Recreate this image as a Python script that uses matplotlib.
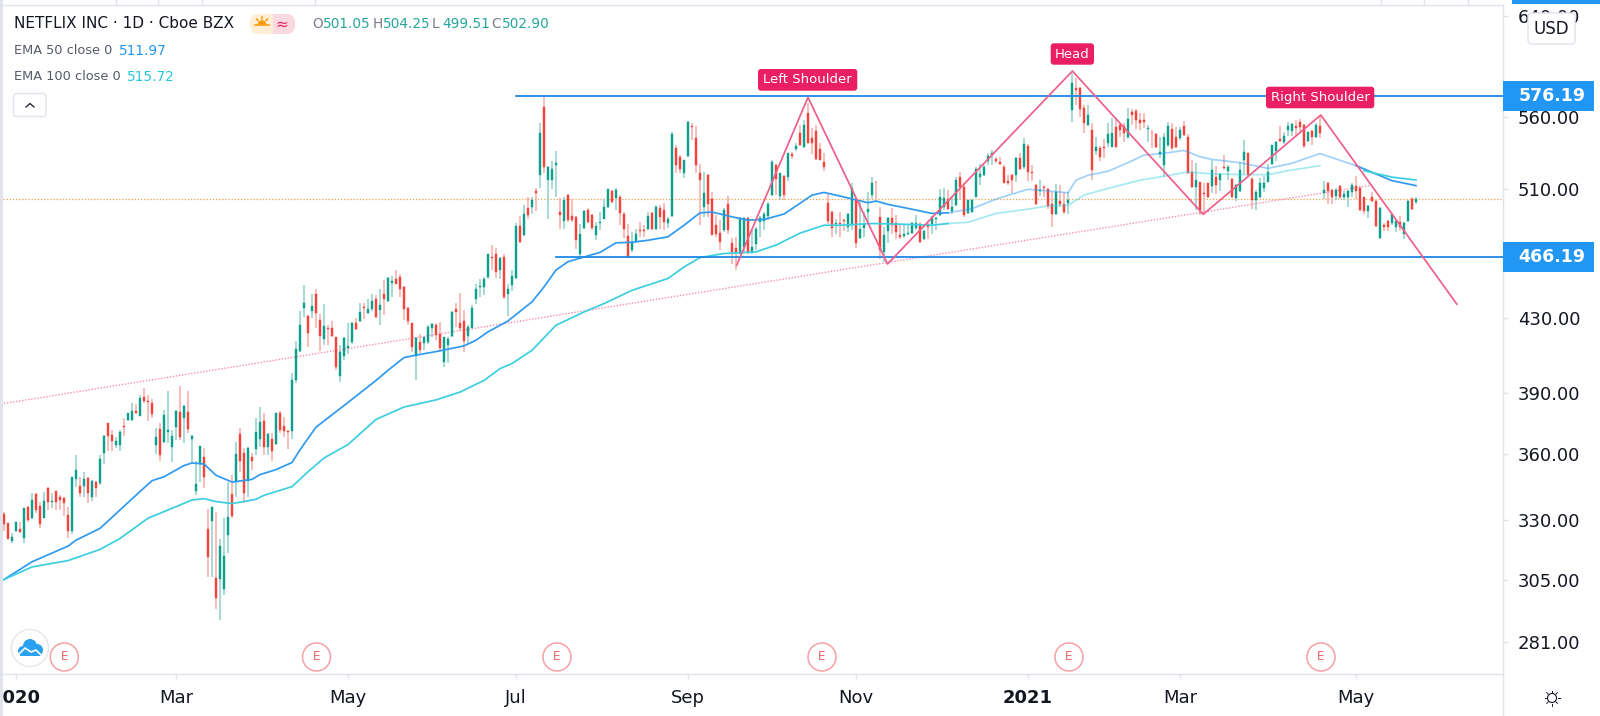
import numpy as np
import matplotlib
matplotlib.use("Agg")
import matplotlib.pyplot as plt
import matplotlib.ticker as mticker
from matplotlib.patches import Rectangle, FancyBboxPatch, Circle, Wedge
from matplotlib.transforms import Bbox, TransformedBbox, IdentityTransform

highs = [333.6,328.9,324.6,329.3,329.3,335.4,336.1,341.8,342.1,338,
342.6,344.8,342.1,343,341,340.3,335.8,349.3,359.2,349.3,
351.4,349,347.8,347.5,359.2,369.1,374.8,371.4,368.2,371.2,
377.3,380,384.7,384.4,389,392.5,389,386.8,372.3,375.1,
381.4,391.1,371.4,381.4,393.3,384,391.1,369.1,356.6,363.9,
362.6,335,335.5,333.6,322.1,330.8,347,350,365.7,372.4,
362.6,363.4,360.3,377.3,383,379.7,369.9,369.9,380,381,
377.8,371.4,400.2,417.7,
434.2,449.2,431.8,444.3,446.7,432.7,438.1,426.2,428.6,419.7,
415.1,419.7,427.7,428,430.5,439,439,441.4,444.3,443.4,
446.7,452.1,454.1,454.5,458.2,455.8,448.6,436.6,427.7,419.4,
421.6,419.7,426.2,427.2,427.2,428.1,419.7,419.7,434.2,438.9,
444.9,434.6,426.2,437.4,449.7,453.1,454.1,468.3,473.5,471.8,
466.3,467.7,450.2,458.2,487.6,491.8,499.3,504.5,504.5,510.1,
555.7,575.5,525.3,528.8,535.8,503.4,504.1,506.3,502.8,491.8,
486.8,495.7,497.4,493.5,488.2,494.6,502.8,509.9,509,510.7,505.7,
494.7,487.1,481.8,483.9,488.2,486,494.7,494.7,499.1,499.1,
500.2,491.4,549.5,540,533.3,529.8,557.5,556.1,553.8,527,
521.4,519.8,507.8,492.5,489.3,496.9,505,478.2,478.7,491,
491.4,491,482.8,484.9,491.9,494.7,501.2,529.8,526.6,520.7,
519.1,534.5,535.2,541.7,554.3,558,570.4,551.9,554.3,541.2,
534.1,506.7,495.4,489.7,494.7,489.7,493.6,513.5,503.4,501.2,
494.7,507.8,518,515.3,498,484.9,491.4,496.9,492.5,487.1,
487.1,487.1,488.2,492.5,488.2,483.2,487.5,491.9,491.4,
509.4,510.1,509,504.5,517.9,521.3,513.9,502.7,503.2,524.3,
526.5,525.8,534.5,536.4,531.7,531.3,526.3,519,519.7,531.7,
534.1,545.1,540.6,525.9,513,515.6,512.3,510.1,507.8,513,
512.3,507.8,507.8,593.2,589.4,583,569.1,569.1,556.1,545.7,
539.2,544.6,555.6,559.3,559.3,555.1,556.1,566.6,566.1,565.8,
563.4,562.9,554.4,550.7,548.3,545.7,548.3,556.8,556.1,552.7,
552.7,557.3,547.6,529.4,527.1,514.5,513.4,513.9,529.4,525,
520.6,532.9,525.9,516.8,513,528.3,543.4,534.5,
517.6,508.7,517.2,518.8,526.8,540.1,543.2,554,549.1,556.5,
555.7,558.2,558.9,555.2,549.6,550.8,555.7,561.4,
514.9,514.3,509.8,510.2,512.7,508.2,508.7,513.6,518.8,511.4,
504.6,499.3,507.5,502.4,497.6,487.3,489.4,493.7,490.1,492.2,
488,502.4,504.7,504.25]

body_tops = [332.6,328.6,322.8,329,326.2,335.2,335.8,338.8,341.5,336.3,
338.2,344,338.2,342.7,340.3,339.5,332.2,349,352.4,345.2,
348.1,348.6,347.2,346.8,357.6,368.7,374.8,369.1,366.1,370.4,
373.5,379.7,380.9,380.9,387.3,387.8,385.8,384.9,368.1,371.8,
378.9,371.2,368.4,380.7,380.5,383.3,380.5,368.4,346,363.6,
358.5,326,335.5,305.9,319,314.6,331.3,341.6,359.7,369.6,
360.4,362.6,358.5,370.4,375.3,375.6,369.6,366.9,379.7,379.9,
373.5,370.8,396.4,413.1,
426.2,439,431.2,437,444.3,429,426,424.7,424.4,419.4,
411.5,419.2,414.8,427.7,427.2,433.5,436.4,435.2,439.9,441.4,
437.7,444.3,453.3,451.9,452.7,454,448.2,436.2,427.3,419.2,
416.8,419.4,425.3,426.8,426.6,421.6,419.4,418.8,433.6,435.2,
427.7,428.6,425.3,435.8,447,448.9,453.1,467.7,466.1,468.3,
465.5,466.3,446.7,454.5,485.5,485.5,493.5,497,502.3,508.3,
548.4,568,524.9,523.3,527.2,494.6,502.1,505.7,491.8,491,
480.4,495.3,495.7,492.4,485.7,488.4,497.9,509.4,508.3,509,504.5,
493.2,479.1,475.5,480.7,483.2,483.2,491.9,493.6,498,496.9,
495.8,490.1,547.9,537.6,531.7,529.3,556.6,553.8,545.2,520.7,
506.7,519.4,502.8,486,481.1,495.8,499.7,474.9,471.9,490.4,
490.4,490.4,472.4,483.9,490.4,493.2,499.7,528.2,525.9,520.3,
518.5,534.1,533.6,539.3,548.8,554.3,563,544.8,550.2,536.9,
527.9,500.2,494.5,487.5,487.5,489.3,493.2,510.1,502.3,483.9,
487.1,496.4,513.5,514.6,491.4,479.7,490.8,490.4,487.5,479.7,
480.3,481.1,487.5,487.7,487.1,482.4,487.1,491.4,490.4,
504.5,503.4,503,497.8,515.6,517.9,511.2,502.3,502.7,523.6,
519.7,524.7,532.4,534.1,529.9,527.8,524.7,514.8,519,530.6,
530.6,540.6,539.2,521.5,512.3,509,511.2,509.4,500,507.8,
501.4,500,502.3,585.6,582.3,582.3,567.1,561.7,550.7,538.3,
537.6,538.7,547.8,548.3,552.7,554.4,553.6,558.8,564.1,564.9,
558,558,551.9,548.8,547.6,534.8,545.7,553.6,551.2,545.7,
550.7,553.6,545.7,521.3,515.6,514.1,507.2,513.4,522.4,517.9,
520.1,524.7,524.3,516.1,512.3,522.4,535,534.1,
516.5,507.5,513.6,513.6,521,539.7,542.5,544.4,546.7,554,
555.2,553.3,556.5,554.7,549.1,550.3,554.7,554,
508.7,513.6,509.1,509.3,511.4,506.4,508.2,512.7,511.6,510.5,
504.2,498.7,504.2,501.9,497.2,486.4,488.6,493.3,489,488,
487.3,501.9,503,502.9]

body_bottoms = [328.3,322.1,321,325.4,324.9,322.3,330,330.8,334.6,328.3,
331,337.8,337.9,338,338.8,337.3,325.4,325.4,348.1,342.1,
345.1,342.1,340.2,344.2,346.3,360.3,368.7,366.1,364.1,364.1,
372.8,376.4,376.3,379.9,378.4,385.6,385.3,379.4,364.2,359.5,
365.5,370.5,363.4,372.7,367.9,377.3,371.8,367.1,343,355.2,
349,314.5,329.6,298,305.5,301.5,323.4,331.8,346.9,356.8,
342.1,347.2,356.6,362.5,367.1,363.4,363.4,361.2,364.7,371.4,
370.7,370.4,370.7,396.8,
412,436,422,434.3,433.1,420.3,418.6,424.2,420.3,403.2,
398.5,409.2,413.7,416.8,424,428.6,435.8,433.3,435.2,430.9,
435,441.2,440.1,450.5,450.2,446.9,435.4,428.3,414.2,409.4,
412.4,416.4,417,424.9,420.5,413.5,406.2,415.1,420.1,433.5,
424.9,417.3,420.3,424.9,441.2,448,448.2,454.1,465.7,457.2,
458.2,442.4,444.3,449.2,453.3,475.3,479.8,492.4,497.9,507.2,
519.3,524.4,516,515.6,526.3,492.7,488.9,489.3,489.3,476.6,
468.3,484,488.2,484,479.8,487.6,490.3,497.9,501.2,503.6,494,
483.9,466.2,470.3,475.5,482.4,482.4,483.9,483.9,483.9,491,
488.2,487.5,491.9,525.9,523,520.3,532.2,553.1,525.9,515.7,
498,499.5,479.7,480.7,475.5,482.8,482.8,469.3,469.3,468.2,
472.4,469.3,469.3,473.9,488.2,488.8,491.9,505.6,516.2,505.2,
505.6,517.5,532.2,536.9,540,538.3,541.7,541.2,530.5,529.8,
524.8,488.8,484.5,487.1,486.7,488.8,484.9,486,474.5,478.2,
484.3,494.7,505.6,514.2,470.3,469.3,482.2,486,481.8,478.7,
479.1,480.7,481.1,484.5,475.5,477.6,484.9,486.7,489.7,
492.5,497.8,496.7,495.2,498.9,511.2,492.5,494,494.6,504.5,
517.9,519,528.7,532.9,528.9,526.7,513.9,513.4,515.6,519,
523.6,524.3,521.3,520.8,499.6,508.3,510.1,498.5,493.5,493.5,
500,494.6,500.5,565.4,580.5,565.9,555.6,554.4,522.9,535.5,
531.3,537.6,541.1,538.7,538.7,550.7,548.3,545.7,561.7,558,
555.6,556.8,551.2,548.3,538.7,533.6,525.9,539.9,537.6,538.3,
545.3,547.1,520.6,511.2,511.2,495.7,506.3,504.5,511.6,512.3,
516,523.8,522,504.5,504,508.5,529.4,519,
502.4,502.4,504.2,510.5,514.7,526.8,536.1,543.2,542,550.4,
549.9,552.3,552.8,539.2,543.2,545.6,545.6,548.6,
506.9,508.2,504.2,505.3,504.2,504.2,504.2,507.5,508.2,495.9,
495,495,501.9,485.8,478,484.7,484.7,487.3,484.7,484.7,
480.4,488.6,496.5,501.05]

lows = [325.4,321.8,320.4,325,324.6,320.4,329.3,330.3,332.9,326.4,
330.8,334.4,335.4,334.6,334.4,331.8,322.5,324,344.8,340.3,
340.3,337.6,338.5,340.3,345.6,355.2,361.5,361.5,362.6,361.5,
368.6,375.6,376,379.4,378.1,384.7,376,377.3,360,356.8,
365,365,356,366.6,366.6,365,369.9,356,341,347,
344,306.3,306.3,293.8,289.4,299,316,330.8,340.3,351.5,
337.6,340.3,352.3,359.5,363.1,359.5,359.5,356.8,364.1,370.2,
367.9,362.5,367.1,395,
411.5,430.9,414.2,430,424.9,412,415.1,415.1,419.7,402.1,
395.5,407.4,410.6,416,423.8,428,429.6,432.7,434.3,430.5,
426.2,431.8,439.5,442.4,449.8,442.4,429.4,426.6,411.5,396.4,
411,412.4,416,419.7,417.9,411.5,403.5,405.6,419.7,425.3,
423,411.5,415.1,424.4,438.5,442.4,443.4,453.1,458.2,453.7,
453.1,441.4,431.2,445.9,452.9,474.5,479.2,490.3,493.1,495.3,
510.7,520.6,489.7,509.6,504.1,483.4,483.4,488.2,488.2,471.1,
466.3,483.6,487.2,482.9,476.6,482.9,489.7,497.4,500.5,496.1,486.1,
478,465.8,469.3,474.5,478.7,478.7,482.8,482.8,482.8,483.9,
482.8,484.3,491.4,520.3,520.3,516.9,531.7,543.6,520.3,486,
491.4,491.4,479.7,478.7,470.3,481.8,480.7,462.1,458.5,467.8,
469.3,468.2,467.8,470.3,478.7,482.8,489.3,505,505.6,502.3,
502.3,515.3,530.5,536,539.3,537.6,541.2,533.6,529.8,529.3,
522.1,487.1,478.7,480.3,478.7,482.4,481.8,482.8,471.4,477.6,
478.7,487.5,502.8,501.2,465.1,463.1,474.5,480.7,477.6,477.6,
478.2,479.7,480.3,483.2,474.9,476.5,477.6,480.3,482.8,
491.9,495.7,495.7,493.1,498.5,502.3,491.5,493.1,494.2,504.1,
512.1,518.3,525.8,525.8,527.6,525.8,513.4,512.1,507.2,514.5,
522.9,523.6,515.2,515.2,498.9,504.9,504.5,496.7,485,492.5,
497.8,493.5,493.1,556.8,569.1,560.5,548.3,553.6,515.6,532.9,
529,530.6,538.7,538.3,537.6,545.7,542.2,544.6,554.4,551.2,
550.7,551.9,542.2,537.6,537.6,530.6,517.9,538.7,536.4,537.6,
543.9,546.6,519.7,510.1,495.7,492.5,493.5,503.4,506.7,506.3,
508.5,522.4,515.6,503.4,501.8,507.8,519.7,518.3,
496.5,495.9,503.7,507.5,514.3,526.3,529.1,542.5,540.9,546.7,
546.7,546.7,549.1,538,542,539.7,545.1,545.1,
503,499.8,499.8,502.6,503,502.4,498,504.2,503,495.5,
493.3,490.7,500.8,484.7,477.4,482.1,482.1,486.4,481.5,482.6,
477.4,488,495.9,499.51]

directions = list(
"rrggrgrgrr" "grgrrrrggr" "grgrggrrgg" "rggrgrrrgr" "ggggrgrggg"
"rrgrgggrgr" "rgrggrgrgr" "rrgg"
"ggrgrrgrrr" "ggggrgrggr" "grggrrrrrg" "rgggrrgggr" "rrgggggg" "rr"
"grgggrgrgr" "grgggrgrrr" "ggrrggggrgr"
"rrggrrgrgr" "rggrrggrrr" "grrrrgrrrg" "grggggggrg" "rgrgrgrrrr"
"rrrgrrggrg" "gggrrggrrr" "ggggrgrgg"
"ggrggrrggg" "ggggrrrrrg" "rgrrrgrrrg" "rrggrrrgrg" "rrggrrrgrr"
"rrgrrgggrr" "grrrgrrrgr" "grgrgggr"
"rggggggrgg" "grrrgrgr"
"grrgrgggrr" "rgrrgrrggr" "ggrg"
)

ema50_bars = [0,7,16,18,24,29,34,37,40,45,47,50,53,57,62,64,68,72,74,78,82,86,
              93,96,100,103,108,115,118,121,126,132,135,138,141,149,153,157,161,166,170,
              174,177,182,186,190,195,199,202,205,209,216,218,221,228,232,236,242,248,252,
              256,261,266,268,271,276,281,285,290,295,299,302,309,316,322,329,338,342,347,353]
ema50_vals = [305.2,312.4,318.9,321.4,326.4,334.4,342.6,347.5,349.3,354.5,355.7,355.2,350,346.9,348.1,350.3,352.6,355.9,361.9,372.8,378.9,385.1,
              396.4,401.7,408.5,409.8,411.7,414.8,417.9,422.5,428.6,439.5,448.2,458.2,463.3,469,474.9,475.3,476.5,478.7,486,
              494,494.5,491.4,489.3,489.7,493.2,500.2,505.6,507.4,505,500.6,501.7,499.5,495.8,493.6,494,496.7,503,506.3,
              509.5,508.4,507.2,515.6,519,521.7,527.6,532.9,534.1,536.2,531.7,529.9,527.6,523.7,527.2,534,525.6,521,515.3,511.97]

ema100_bars = [0,7,16,24,29,36,41,47,50,53,57,63,65,72,76,80,86,93,100,108,114,120,124,127,132,138,145,150,
               157,166,170,174,180,188,193,199,205,209,217,224,232,236,241,248,256,261,266,270,276,284,290,296,
               301,309,316,321,329,340,347,353]
ema100_vals = [305.2,310.3,312.9,317.5,322.1,330.8,334.4,338.8,339.4,338.1,337.2,339.1,340.9,344.8,351.6,358,364.4,376.6,382.8,386.4,390.4,396.4,402.6,405.3,412.4,426.2,433.7,438.5,
               446.2,453.2,460.1,465.8,468.3,469.3,473.5,481,486,486,487.1,486.7,486,487.1,487.9,493.6,496.4,498.5,498.9,505.6,510.1,515.6,518.3,521.3,
               520.1,519.4,519.4,522.1,525.6,522.1,517.7,515.72]

level_prices = [576.19, 466.19]
level_starts = [128.0, 138.0]
zigzag_bars = [183.2, 201, 220.9, 267.1, 299.8, 329.2, 363.2]
zigzag_vals = [461.3, 574.9, 461.9, 595.1, 493, 561.7, 438.2]
trend_bars = [0, 342.25]
trend_vals = [384.6, 512.4]
last_close = 502.90

y_ticks = [281, 305, 330, 360, 390, 430, 510, 560, 640]
x_tick_bars = [3, 43, 86, 128, 171, 213, 256, 294, 338]
x_tick_labels = ["2020", "Mar", "May", "Jul", "Sep", "Nov", "2021", "Mar", "May"]
x_tick_bold = ["2020", "2021"]

shape_labels = ["Left Shoulder", "Head", "Right Shoulder"]
legend_ohlc = [("O", "501.05"), ("H", "504.25"), ("L", "499.51"), ("C", "502.90")]

W, H = 1600, 716
GRID = "#e0e3eb"
FONT = "DejaVu Sans"
plt.rcParams["font.family"] = FONT

def fx(px): return px / W
def fy(py): return 1 - py / H

fig = plt.figure(figsize=(16, 7.16), dpi=100, facecolor="white")
L, R, T, B = 3, 1503, 5, 674
ax = fig.add_axes([fx(L), fy(B), (R - L) / W, (B - T) / H])
ax.set_yscale("log")
ax.set_xlim(-0.25, 374.75)
ax.set_ylim(269.6, 649.0)
ax.spines["left"].set_visible(False)
for s in ["right", "bottom", "top"]:
    ax.spines[s].set_color(GRID)
    ax.spines[s].set_linewidth(1.0)

n = len(highs)
bars = np.arange(n)
hi, lo = np.array(highs), np.array(lows)
tops, bots = np.array(body_tops), np.array(body_bottoms)
up = np.array([d == "g" for d in directions])
RED, GREEN = "#f4433c", "#0c9f8b"
RED_W, GREEN_W = "#f8aaa8", "#8fd0c6"

ax.vlines(bars[up], lo[up], hi[up], color=GREEN_W, lw=1.1, zorder=2)
ax.vlines(bars[~up], lo[~up], hi[~up], color=RED_W, lw=1.1, zorder=2)
ax.bar(bars[up], (tops - bots)[up], bottom=bots[up], width=0.72, color=GREEN, edgecolor=GREEN, lw=0.3, zorder=3)
ax.bar(bars[~up], (tops - bots)[~up], bottom=bots[~up], width=0.72, color=RED, edgecolor=RED, lw=0.3, zorder=3)

ax.axhline(last_close, color="#f0a04b", lw=0.9, ls=(0, (1, 1.5)), zorder=1)
ax.plot(trend_bars, trend_vals, color="#f48fb1", lw=1.0, ls=(0, (1, 1.2)), zorder=2)

def ema(bars_, vals_, col):
    x, y = np.array(bars_), np.array(vals_)
    a = x <= 236
    b = (x >= 236) & (x <= 338)
    c = x >= 338
    ax.plot(x[a], y[a], color=col, lw=1.25, zorder=4, solid_joinstyle="round")
    ax.plot(x[b], y[b], color=col, lw=1.25, alpha=0.45, zorder=4, solid_joinstyle="round")
    ax.plot(x[c], y[c], color=col, lw=1.25, zorder=4, solid_joinstyle="round")

ema(ema50_bars, ema50_vals, "#2f9af0")
ema(ema100_bars, ema100_vals, "#3ccfe0")

for p, s in zip(level_prices, level_starts):
    ax.plot([s, ax.get_xlim()[1]], [p, p], color="#1e88e5", lw=1.3, zorder=5)
ax.plot(zigzag_bars, zigzag_vals, color="#ee5f8a", lw=1.25, zorder=6)

ax.yaxis.tick_right()
ax.set_yticks(y_ticks)
ax.set_yticklabels([f"{v:.2f}" for v in y_ticks])
ax.yaxis.set_minor_locator(mticker.NullLocator())
ax.tick_params(axis="y", length=3.6, width=1, color=GRID, labelsize=13, labelcolor="#131722", pad=7)
ax.set_xticks(x_tick_bars)
ax.set_xticklabels(x_tick_labels)
ax.tick_params(axis="x", length=3.6, width=1, color=GRID, labelsize=13, labelcolor="#131722", pad=7.5)
clip = TransformedBbox(Bbox([[L, 0], [R, H]]), IdentityTransform())
for lab in ax.get_xticklabels():
    lab.set_clip_box(clip)
    lab.set_clip_on(True)
    if lab.get_text() in x_tick_bold:
        lab.set_fontweight("bold")

# ---- chrome drawn in pixel coordinates
ov = fig.add_axes([0, 0, 1, 1], zorder=10)
ov.set_xlim(0, W); ov.set_ylim(H, 0); ov.axis("off"); ov.patch.set_alpha(0)

def price_y(p):
    return H - ax.transData.transform((0, p))[1]

ov.add_patch(Rectangle((0, 0), 3, H, color=GRID, lw=0))
ov.plot([R, R], [B, H], color=GRID, lw=1)
for x in [116, 158, 202, 315, 1381, 1424, 1468]:
    ov.plot([x, x], [0, T], color=GRID, lw=1)
ov.add_patch(Rectangle((1512, 0), 88, 4, color="#2196f3", lw=0))

# price tags
for p in level_prices:
    yc = price_y(p)
    ov.add_patch(Rectangle((R, yc - 15), 91, 30, color="#2196f3", lw=0, zorder=3))
    ov.text(1552, yc, f"{p:.2f}", color="white", fontsize=12.5, fontweight="bold", ha="center", va="center", zorder=4)

# USD button
ov.add_patch(FancyBboxPatch((1528, 13), 47, 31, boxstyle="round,pad=0,rounding_size=4",
                            fc="white", ec=GRID, lw=1, zorder=3))
ov.text(1551, 29, "USD", color="#131722", fontsize=12, ha="center", va="center", zorder=4)

# shape labels
boxes = [(758, 69, 99.3, 21.7), (1050.7, 43.3, 43.3, 21.4), (1266, 86.7, 108.3, 21.6)]
for txt, (x, y, w, h) in zip(shape_labels, boxes):
    ov.add_patch(FancyBboxPatch((x, y), w, h, boxstyle="round,pad=0,rounding_size=3",
                                fc="#e91e63", ec="none", zorder=5))
    ov.text(x + w / 2, y + h / 2, txt, color="white", fontsize=9.5, ha="center", va="center", zorder=6)

# legend
ov.text(14, 24, "NETFLIX INC · 1D · Cboe BZX", color="#131722", fontsize=11, va="center", ha="left")
ov.text(14, 50.7, "EMA 50 close 0", color="#555a66", fontsize=9.3, va="center", ha="left")
ov.text(118.7, 50.7, "511.97", color="#2196f3", fontsize=9.8, va="center", ha="left")
ov.text(14, 77, "EMA 100 close 0", color="#555a66", fontsize=9.3, va="center", ha="left")
ov.text(126.7, 77, "515.72", color="#26c6da", fontsize=9.8, va="center", ha="left")
xs = 312.7
for step, (a, b) in enumerate(legend_ohlc):
    ov.text(xs + step * 59.5, 24.5, a, color="#787b86", fontsize=9.8, va="center", ha="left")
    ov.text(xs + step * 59.5 + 10.5, 24.5, b, color="#26a69a", fontsize=9.8, va="center", ha="left")

# weather pill
ov.add_patch(FancyBboxPatch((250, 14), 45, 20, boxstyle="round,pad=0,rounding_size=9", fc="#fdeed5", ec="none"))
ov.add_patch(Rectangle((272.5, 14), 13, 20, color="#fbd9e3", lw=0))
ov.add_patch(FancyBboxPatch((277, 14), 18, 20, boxstyle="round,pad=0,rounding_size=9", fc="#fbd9e3", ec="none"))
ov.add_patch(Wedge((262, 24.5), 4.2, 180, 360, fc="#ff9800", ec="none"))
ov.plot([255, 269], [25, 25], color="#ff9800", lw=1.1)
ov.plot([262, 262], [16.5, 18.5], color="#ff9800", lw=1.1)
ov.plot([256.5, 258], [19, 20.5], color="#ff9800", lw=1.1)
ov.plot([267.5, 266], [19, 20.5], color="#ff9800", lw=1.1)
ov.text(282, 24, "≈", color="#e91e63", fontsize=11, ha="center", va="center")

# collapse button
ov.add_patch(FancyBboxPatch((13.5, 93.5), 32.5, 23, boxstyle="round,pad=0,rounding_size=3", fc="white", ec=GRID, lw=1))
ov.plot([26, 30, 34], [107, 103.5, 107], color="#131722", lw=0.9)

# earnings markers
for x in [64.3, 316.5, 557, 822, 1069, 1321]:
    ov.add_patch(Circle((x, 657), 14, fc="white", ec="#f7a0a5", lw=1.1))
    ov.text(x, 657, "E", color="#f2616a", fontsize=8.5, ha="center", va="center")

# logo
ov.add_patch(Circle((30, 648), 18.5, fc="white", ec="#e6e6e6", lw=1))
for cx, cy, r in [(23, 651, 5), (30, 646, 7), (37, 650, 6)]:
    ov.add_patch(Circle((cx, cy), r, fc="#2aa1f0", ec="none"))
ov.add_patch(Rectangle((20, 650), 21, 5.5, color="#2aa1f0", lw=0))
ov.plot([19, 25, 31, 36, 41], [654, 648, 652, 650, 655], color="white", lw=1.2)

# settings icon: outlined sun
ov.add_patch(Circle((1552, 698), 4.5, fc="white", ec="#131722", lw=0.8))
for a in np.deg2rad(np.arange(0, 360, 45)):
    ov.plot([1552 + 5.5 * np.cos(a), 1552 + 7.5 * np.cos(a)],
            [698 + 5.5 * np.sin(a), 698 + 7.5 * np.sin(a)], color="#131722", lw=0.7)

fig.savefig("out.png", dpi=100, facecolor="white")
